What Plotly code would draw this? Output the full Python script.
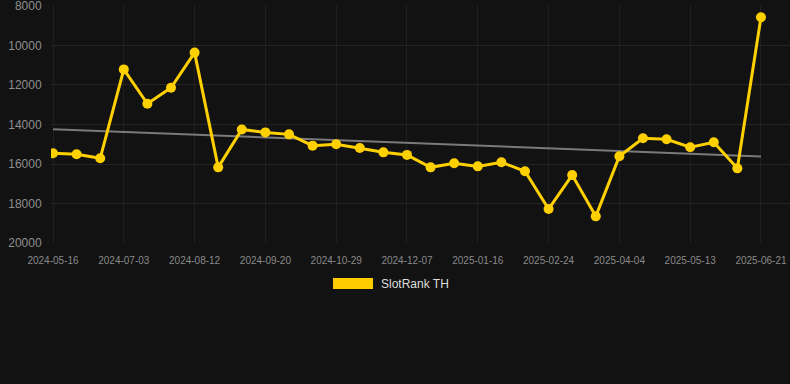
import numpy as np
import plotly.graph_objects as go

dates = ["2024-05-16", "2024-05-29", "2024-06-15", "2024-07-03", "2024-07-16", "2024-07-29",
         "2024-08-12", "2024-08-25", "2024-09-07", "2024-09-20", "2024-10-03", "2024-10-16",
         "2024-10-29", "2024-11-11", "2024-11-24", "2024-12-07", "2024-12-20", "2025-01-03",
         "2025-01-16", "2025-01-29", "2025-02-11", "2025-02-24", "2025-03-09", "2025-03-22",
         "2025-04-04", "2025-04-17", "2025-04-30", "2025-05-13", "2025-05-26", "2025-06-08",
         "2025-06-21"]
rank = [15460, 15510, 15710, 11210, 12950, 12140, 10360, 16170, 14250, 14400, 14500, 15070,
        15000, 15190, 15410, 15540, 16170, 15960, 16120, 15910, 16370, 18280, 16560, 18650,
        15610, 14700, 14750, 15150, 14900, 16220, 8570]
tick_labels = dates[::3]
y_ticks = [8000, 10000, 12000, 14000, 16000, 18000, 20000]

idx = np.arange(len(rank))
slope, intercept = np.polyfit(idx, rank, 1)
trend = slope * idx + intercept

L, W, T, H = 51, 739, 5, 238

fig = go.Figure()
fig.add_trace(go.Scatter(x=dates, y=trend, mode="lines",
                         line=dict(color="#7a7a7a", width=2), hoverinfo="skip", showlegend=False))
fig.add_trace(go.Scatter(x=dates, y=rank, mode="lines+markers", name="SlotRank TH",
                         line=dict(color="#FFD000", width=3),
                         marker=dict(color="#FFD000", size=10), showlegend=False))

fig.update_layout(
    width=790, height=384,
    paper_bgcolor="#121212", plot_bgcolor="#121212",
    margin=dict(l=L, r=790 - L - W, t=T, b=384 - T - H),
    font=dict(family="Liberation Sans, Arial, sans-serif", color="#8a8a8a"),
    xaxis=dict(type="category", range=[-0.085, 31.23], tickmode="array",
               tickvals=tick_labels, ticktext=tick_labels,
               showgrid=True, gridcolor="#1f1f1f", gridwidth=1, zeroline=False,
               ticks="outside", ticklen=8, tickcolor="rgba(0,0,0,0)",
               tickfont=dict(size=10, color="#8a8a8a"), showline=False),
    yaxis=dict(range=[20000, 7950], tickvals=y_ticks, ticktext=[str(v) for v in y_ticks],
               showgrid=True, gridcolor="#242424", gridwidth=1, zeroline=False,
               ticks="outside", ticklen=6, tickcolor="rgba(0,0,0,0)",
               ticklabeloverflow="allow",
               tickfont=dict(size=12, color="#8f8f8f"), showline=False),
    shapes=[dict(type="rect", xref="paper", yref="paper",
                 x0=(333 - L) / W, x1=(373 - L) / W,
                 y0=-(289 - (T + H)) / H, y1=-(278 - (T + H)) / H,
                 fillcolor="#FFCC00", line=dict(width=0))],
    annotations=[dict(text="SlotRank TH", xref="paper", yref="paper",
                      x=(379 - L) / W, y=-(284 - (T + H)) / H,
                      xanchor="left", yanchor="middle", showarrow=False,
                      font=dict(size=12, color="#dddddd"))],
)

fig.write_html("out.html")
